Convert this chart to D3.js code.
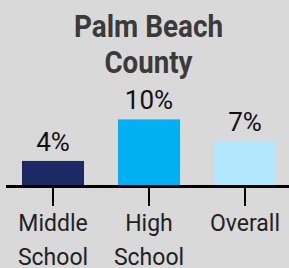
<!DOCTYPE html>
<html>
<head>
<meta charset="utf-8">
<script src="https://cdn.jsdelivr.net/npm/d3@7"></script>
<style>
  html, body { margin: 0; padding: 0; background: #d9d9d9; }
  svg { display: block; font-family: Roboto, "Noto Sans", sans-serif; }
</style>
</head>
<body>
<svg id="chart" width="289" height="268"></svg>
<script>
/************** Data **************/
const titleLines = ["Palm Beach", "County"];
const categories = ["Middle School", "High School", "Overall"];
const categoryLines = [["Middle", "School"], ["High", "School"], ["Overall"]];
const values = [3.7, 10.1, 6.8];          // percent, shown rounded
const barColors = ["#1c2964", "#00b0f0", "#b3e8fc"];

/************** Setup **************/
const width = 289, height = 268;
const baseY = 185;

const svg = d3.select("#chart");

svg.append("rect")
  .attr("width", width).attr("height", height)
  .attr("fill", "#d9d9d9");

const x = d3.scaleBand()
  .domain(categories)
  .range([22, 276])
  .paddingInner(0.354)
  .paddingOuter(0);

const y = d3.scaleLinear()
  .domain([0, 10])
  .range([baseY, baseY - 65]);

const data = categories.map((c, i) => ({ cat: c, value: values[i], color: barColors[i], lines: categoryLines[i] }));

/************** Title (slightly condensed) **************/
const titleWidths = [149, 88];
svg.selectAll("text.title")
  .data(titleLines)
  .join("text")
    .attr("class", "title")
    .attr("x", 148.5)
    .attr("y", (d, i) => 36.5 + i * 36.5)
    .attr("text-anchor", "middle")
    .attr("fill", "#3a3a3a")
    .attr("textLength", (d, i) => titleWidths[i])
    .attr("lengthAdjust", "spacingAndGlyphs")
    .style("font-size", "32px")
    .style("font-weight", 700)
    .text(d => d);

/************** Bars **************/
svg.selectAll("rect.bar")
  .data(data)
  .join("rect")
    .attr("class", "bar")
    .attr("x", d => x(d.cat))
    .attr("y", d => y(d.value))
    .attr("width", x.bandwidth())
    .attr("height", d => y(0) - y(d.value))
    .attr("fill", d => d.color);

svg.selectAll("text.value")
  .data(data)
  .join("text")
    .attr("class", "value")
    .attr("x", d => x(d.cat) + x.bandwidth() / 2)
    .attr("y", d => y(d.value) - 10)
    .attr("text-anchor", "middle")
    .attr("fill", "#111")
    .style("font-size", "26px")
    .text(d => d3.format(".0f")(d.value) + "%");

/************** Axis **************/
const axis = svg.append("g")
  .attr("transform", `translate(0,${baseY + 2})`)
  .call(d3.axisBottom(x).tickSize(19).tickSizeOuter(0));

axis.select(".domain").remove();
axis.selectAll(".tick line").attr("stroke", "#000").attr("stroke-width", 2);
axis.selectAll(".tick text").remove();

axis.selectAll(".tick")
  .append("text")
    .attr("text-anchor", "middle")
    .attr("fill", "#222")
    .style("font-size", "23px")
    .style("font-family", "Roboto, sans-serif")
    .selectAll("tspan")
    .data(c => data.find(d => d.cat === c).lines)
    .join("tspan")
      .attr("x", 0)
      .attr("y", (d, i) => 43.5 + i * 34.5)
      .text(d => d);

// baseline
svg.append("line")
  .attr("x1", 6).attr("x2", width)
  .attr("y1", baseY + 1.5).attr("y2", baseY + 1.5)
  .attr("stroke", "#000")
  .attr("stroke-width", 3);
</script>
</body>
</html>
